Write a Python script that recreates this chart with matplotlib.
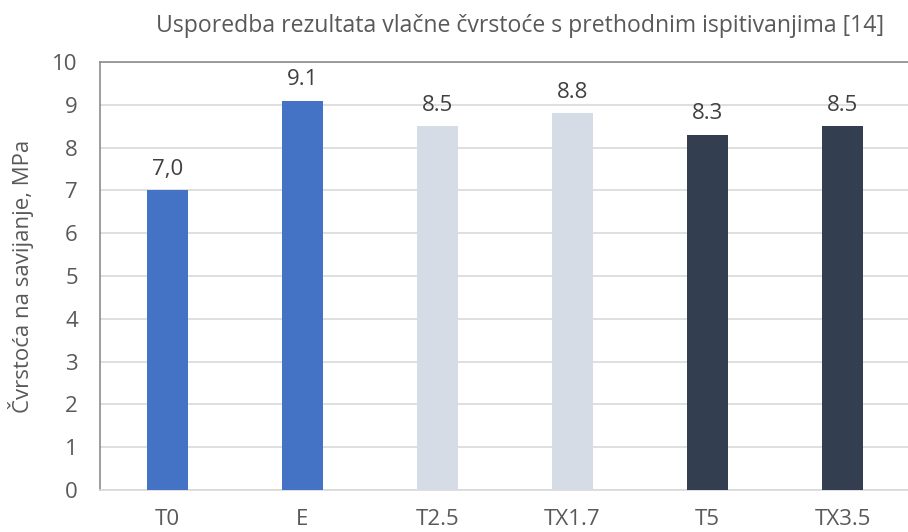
import matplotlib
matplotlib.use("Agg")
import matplotlib.pyplot as plt

plt.rcParams['font.family'] = ['Open Sans', 'DejaVu Sans']

categories = ['T0', 'E', 'T2.5', 'TX1.7', 'T5', 'TX3.5']
values = [7.0, 9.1, 8.5, 8.8, 8.3, 8.5]
value_labels = ['7,0', '9.1', '8.5', '8.8', '8.3', '8.5']
colors = ['#4472C4', '#4472C4', '#D6DCE5', '#D6DCE5', '#333F50', '#333F50']

txt = '#595959'
fs = 16

fig = plt.figure(figsize=(9.08, 5.32), dpi=100)
ax = fig.add_axes([100/908, 42/532, 810/908, 428/532])

x = range(len(categories))
ax.bar(x, values, width=0.31, color=colors, zorder=3)

# data labels above bars
for i, (v, lab) in enumerate(zip(values, value_labels)):
    ax.annotate(lab, (i, v), xytext=(0, 7.5), textcoords='offset points',
                ha='center', va='bottom', fontsize=fs, color='#404040')

ax.set_xlim(-0.5, 5.5)
ax.set_ylim(0, 10)
ax.set_yticks(range(0, 11))
ax.set_xticks(list(x))
ax.set_xticklabels(categories)
ax.tick_params(axis='both', length=0, labelsize=fs, labelcolor=txt)
ax.tick_params(axis='x', pad=14)
ax.tick_params(axis='y', pad=16)

ax.grid(axis='y', color='#D9D9D9', linewidth=1.2, zorder=0)
ax.spines['right'].set_visible(False)
ax.spines['top'].set_color('#8C8C8C')
ax.spines['left'].set_color('#8C8C8C')
ax.spines['bottom'].set_color('#D9D9D9')
for s in ax.spines.values():
    s.set_linewidth(1.2)

ax.set_ylabel('Čvrstoća na savijanje, MPa', fontsize=fs, color=txt, labelpad=13)
fig.text(520/908, 1 - 26/532, 'Usporedba rezultata vlačne čvrstoće s prethodnim ispitivanjima [14]',
         ha='center', va='center', fontsize=16.6, color=txt)

fig.savefig('out.png', dpi=100)
